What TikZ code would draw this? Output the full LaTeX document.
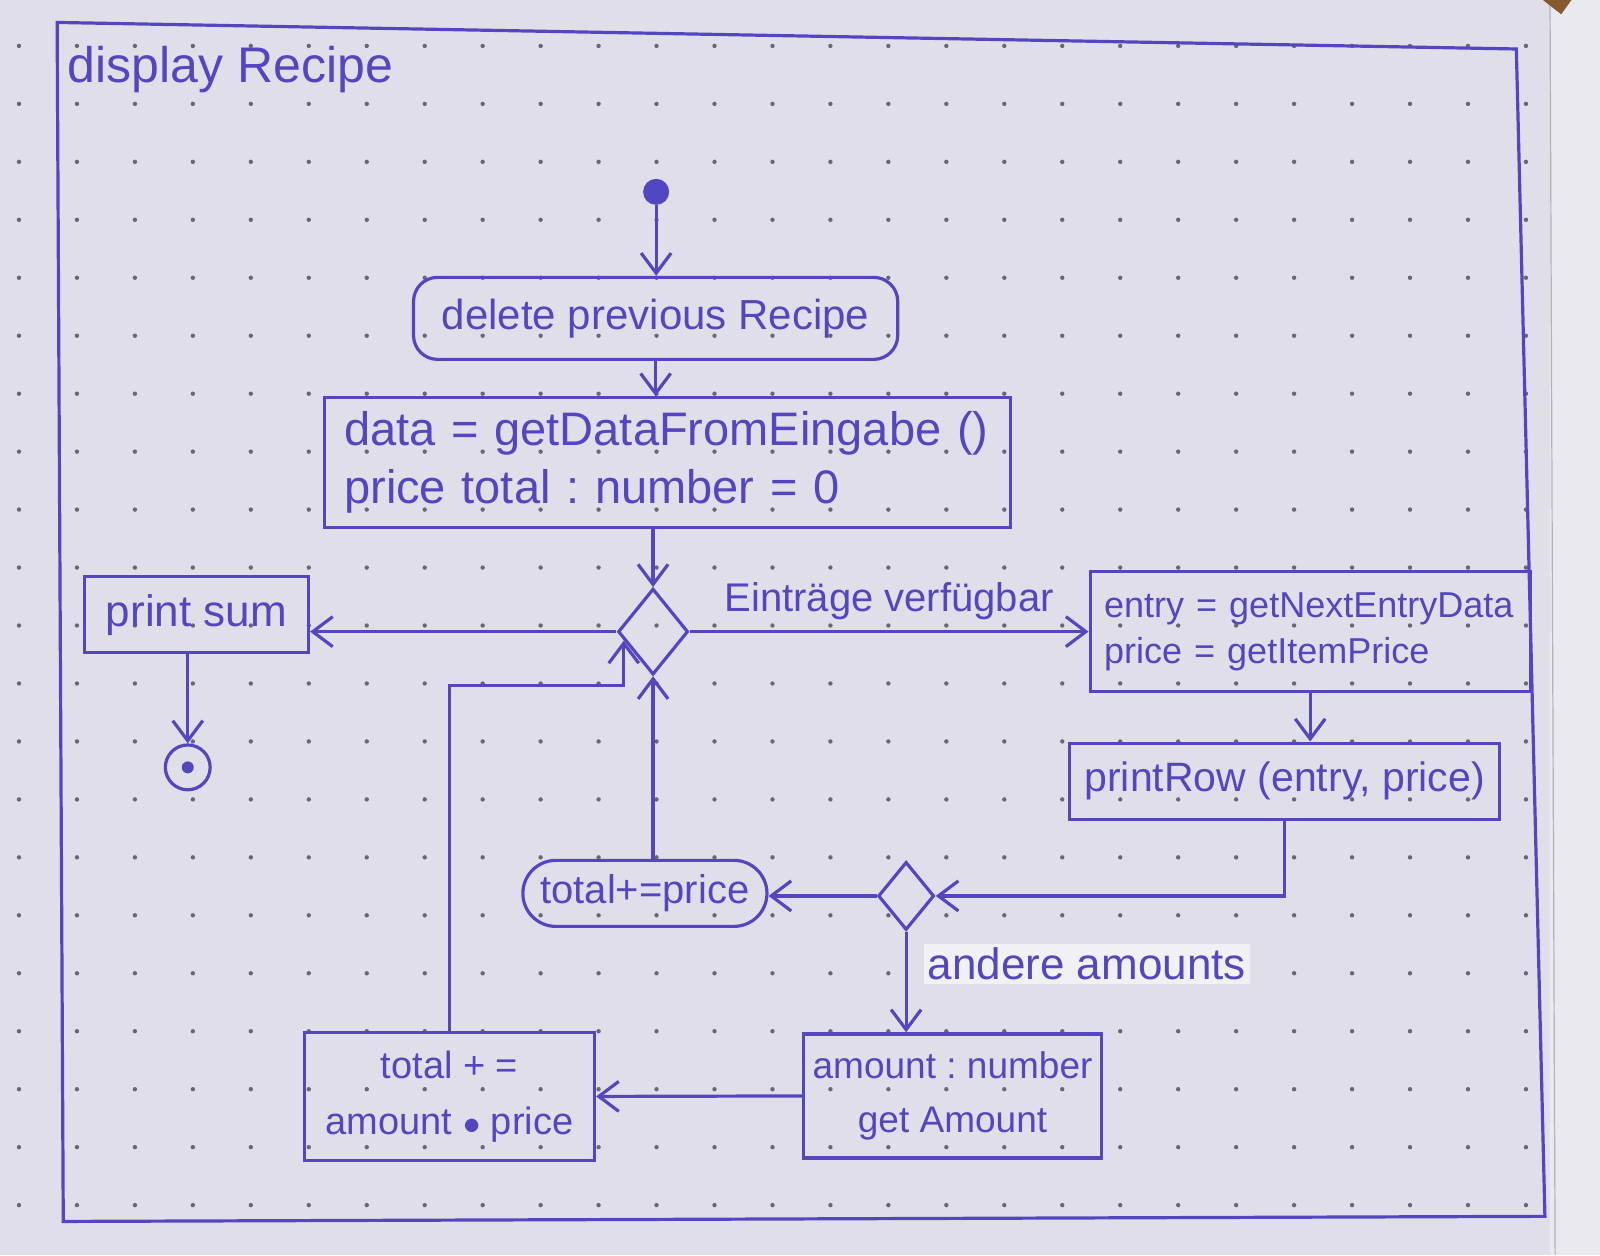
\documentclass[tikz,border=0pt]{standalone}
\usepackage{fontspec}
\setmainfont{Liberation Sans}
\frenchspacing
\usetikzlibrary{shapes.geometric,arrows.meta,calc}
\definecolor{ink}{RGB}{84,70,192}
\definecolor{paper}{RGB}{224,223,233}
\definecolor{paperedge}{RGB}{233,233,239}
\definecolor{dotc}{RGB}{105,103,118}
\tikzset{
  inkline/.style={draw=ink,line width=1.6pt},
  flow/.style={inkline,-{Straight Barb[length=10pt,width=15pt,line width=1.6pt]}},
  act/.style={inkline,rectangle,inner sep=0pt,text=ink},
  ract/.style={act,rounded corners=12pt},
  dec/.style={inkline,diamond,inner sep=0pt},
  lbl/.style={text=ink,inner sep=2pt},
}
\begin{document}
\begin{tikzpicture}[x=0.51pt,y=-0.51pt]
\useasboundingbox (0,0) rectangle (1568,1230);
% paper
\fill[paper] (0,0) rectangle (1568,1230);
\fill[paperedge] (1519,0) rectangle (1568,1230);
\draw[gray!60,line width=0.6pt] (1519,0) -- (1524,1230);
\fill[brown!70!black] (1512,0) -- (1540,0) -- (1530,14) -- cycle;
% dot grid
\foreach \i in {0,...,26}{
  \foreach \j in {0,...,21}{
    \fill[dotc] ({18.6+56.8*\i},{45+56.8*\j}) circle (1.1pt);
  }
}
% frame
\draw[inkline] (56,22) -- (1486,48) -- (1514,1192) -- (62,1197) -- cycle;
\node[lbl,anchor=west,font=\fontsize{25}{30}\selectfont] (title) at (62,68) {display Recipe};

% nodes
\node[circle,fill=ink,minimum size=13pt,inner sep=0pt] (start) at (643,188) {};
\node[ract,minimum width=242pt,minimum height=41pt,font=\fontsize{21}{25}\selectfont] (del) at (642.5,312) {delete previous Recipe};
\node[act,font=\fontsize{23.5}{29}\selectfont,text width=323pt,inner xsep=10pt,align=left,minimum height=65pt] (data) at (654,453.5) {data = getDataFromEingabe ()\\price total : number = 0};
\node[dec,minimum width=35pt,minimum height=43pt] (d1) at (640,619) {};
\node[act,minimum width=112pt,minimum height=38pt,font=\fontsize{22}{26}\selectfont] (printsum) at (192.5,602.5) {print sum};
\node[circle,inkline,minimum size=22.4pt,inner sep=0pt,
  path picture={\fill[ink] (path picture bounding box.center) circle (3pt);}] (final) at (184,752) {};
\node[act,font=\fontsize{18}{23}\selectfont,text width=206pt,inner xsep=7pt,align=left,minimum height=60pt] (entry) at (1284,619) {entry = getNextEntryData\\price = getItemPrice};
\node[act,minimum width=215pt,minimum height=38pt,font=\fontsize{20.5}{25}\selectfont] (printrow) at (1259,765.5) {printRow (entry, price)};
\node[dec,minimum width=28pt,minimum height=34pt] (d2) at (888,878) {};
\node[act,rounded corners=16.5pt,minimum width=122pt,minimum height=33pt,font=\fontsize{20}{24}\selectfont] (oval) at (632,875.5) {total+=price};
\node[act,minimum width=149pt,minimum height=62pt,align=center,font=\fontsize{18.5}{27}\selectfont] (amount) at (933.5,1074) {amount : number\\get Amount};
\node[act,minimum width=145pt,minimum height=64pt,align=center,font=\fontsize{19}{28}\selectfont] (totalbox) at (440.5,1074.5) {total + =\\amount $\bullet$ price};

\coordinate (tip) at ($(d1.west)!0.2!(d1.south)$);
\coordinate (turnY) at (0,672);

% connectors
\draw[flow] (start) -- (start |- del.north);
\draw[flow] (del.south) -- (del.south |- data.north);
\draw[flow] (d1.north |- data.south) -- (d1.north);
\draw[flow] (d1.west) -- (d1.west -| printsum.east);
\draw[flow] (final.north |- printsum.south) -- (final.north);
\draw[flow] (d1.east) -- node[lbl,above=3pt,font=\fontsize{20}{24}\selectfont] (lblE) {Einträge verfügbar} (entry.west);
\draw[flow] (entry.south) -- (entry.south |- printrow.north);
\draw[flow] (printrow.south) |- (d2.east);
\draw[flow] (d2.west) -- (d2.west -| oval.east);
\draw[flow] (d1.south |- oval.north) -- (d1.south);
\draw[flow] (d2.south) -- node[lbl,right=8pt,pos=0.32,fill=white!55!paper,font=\fontsize{22}{26}\selectfont] (lblA) {andere amounts} (d2.south |- amount.north);
\draw[flow] (amount.west) -- (totalbox.east);
\draw[flow] (totalbox.north) |- (tip |- turnY) -- (tip);
\end{tikzpicture}
\end{document}
